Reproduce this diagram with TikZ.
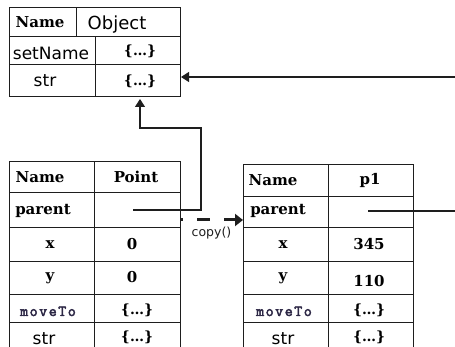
\documentclass[tikz,border=0pt]{standalone}
\usepackage{fontspec}
\setmainfont{DejaVu Serif}
\setsansfont{DejaVu Sans}
\newfontfamily\monob{Latin Modern Mono}[LetterSpace=10,FakeBold=3]
\usetikzlibrary{arrows.meta}
\definecolor{ln}{RGB}{30,30,30}
\definecolor{mv}{RGB}{45,40,70}
\begin{document}
\begin{tikzpicture}[x=1pt,y=-1pt,
  grid/.style={draw=ln, line width=1pt},
  hd/.style={font=\fontsize{15}{15}\selectfont\bfseries, inner sep=0pt, anchor=base},
  sf/.style={font=\sffamily\fontsize{17}{17}\selectfont, inner sep=0pt, anchor=base},
  br/.style={font=\fontsize{14}{14}\selectfont\bfseries, inner sep=0pt},
  mono/.style={font=\monob\fontsize{15.5}{15.5}\selectfont, text=mv, inner sep=0pt, anchor=base},
  conn/.style={draw=ln, line width=1.1pt},
  tip/.style={-{Triangle[length=8pt,width=10pt]}}
]
\useasboundingbox (0,0) rectangle (455,347);
\begin{scope}
\clip (0,0) rectangle (455,347);
% Object table
\draw[grid] (9,8) rectangle (180,97);
\draw[grid] (9,37) -- (180,37) (9,65) -- (180,65) (76,8) -- (76,37) (95,37) -- (95,97);
% Point table
\draw[grid] (9,162) rectangle (180,365);
\draw[grid] (9,193) -- (180,193) (9,228) -- (180,228) (9,262) -- (180,262)
  (9,295) -- (180,295) (9,322) -- (180,322) (94,162) -- (94,365);
% p1 table
\draw[grid] (243,165) rectangle (413,365);
\draw[grid] (243,197) -- (413,197) (243,228) -- (413,228) (243,262) -- (413,262)
  (243,295) -- (413,295) (243,322) -- (413,322) (328,165) -- (328,365);
\end{scope}

% Object texts
\node[hd] (oname) at (40,28) {Name};
\node[sf, font=\sffamily\fontsize{18}{18}\selectfont] (oobj) at (117,30) {Object};
\node[sf] (osetname) at (51,60) {setName};
\node[br] (osetv) at (140,51) {\{…\}};
\node[sf] (ostr) at (45,87) {str};
\node[br] (ostrv) at (140,81) {\{…\}};

% Point texts
\node[hd] (pname) at (40,183) {Name};
\node[hd] (ppoint) at (136,183) {Point};
\node[hd] (pparentl) at (43,215) {parent};
\node[hd] (px) at (50,249) {x};
\node[hd] (pxv) at (132,250) {0};
\node[hd] (py) at (50,281) {y};
\node[hd] (pyv) at (132,283) {0};
\node[mono] (pmove) at (48,316) {moveTo};
\node[br] (pmovev) at (137,310) {\{…\}};
\node[sf] (pstr) at (44,344) {str};
\node[br] (pstrv) at (137,337) {\{…\}};

% p1 texts
\node[hd] (qname) at (273,186) {Name};
\node[hd] (qp1) at (370,185) {p1};
\node[hd] (qparentl) at (278,215) {parent};
\node[hd] (qx) at (283,249) {x};
\node[hd] (qxv) at (369,250) {345};
\node[hd] (qy) at (283,281) {y};
\node[hd] (qyv) at (369,287) {110};
\node[mono] (qmove) at (284,316) {moveTo};
\node[br] (qmovev) at (369,310) {\{…\}};
\node[sf] (qstr) at (283,344) {str};
\node[br] (qstrv) at (369,337) {\{…\}};

% connector coordinates
\coordinate (rin) at (455,77);
\coordinate (objR) at (181,77);
\coordinate (pptr) at (133,210);
\coordinate (bend) at (201,128);
\coordinate (objB) at (140,99);
\coordinate (pR) at (180,220);
\coordinate (qL) at (243,220);
\coordinate (qptr) at (368,211);
\coordinate (rout) at (455,211);

\draw[conn,tip] (rin) -- (objR);
\draw[conn,tip] (pptr) -| (bend) -| (objB);
\draw[conn] (qptr) -- (rout);
\draw[draw=ln, line width=3pt, dash pattern=on 13pt off 14pt, dash phase=10pt,
  -{Triangle[length=8pt,width=12pt]}] (pR) -- (qL)
  node[midway, below=6pt, inner sep=0pt, font=\sffamily\fontsize{12.5}{12.5}\selectfont, text=ln] (copy) {copy()};
\end{tikzpicture}
\end{document}
